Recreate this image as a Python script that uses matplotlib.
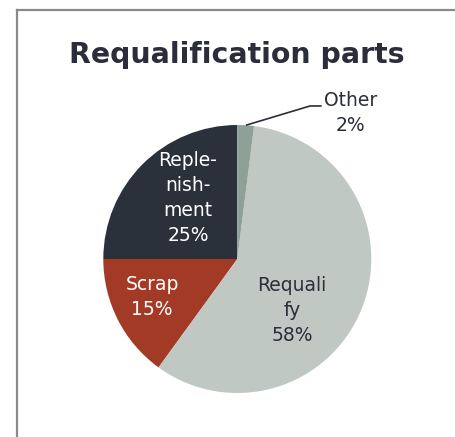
import matplotlib
matplotlib.use("Agg")
import matplotlib.pyplot as plt
from matplotlib.lines import Line2D

# Data
categories = ["Replenishment", "Scrap", "Requalify", "Other"]
label_lines = [["Reple-", "nish-", "ment"], ["Scrap"], ["Requali", "fy"], ["Other"]]
shares = [25, 15, 58, 2]

colors = ["#2b313b", "#a33a26", "#bfc8c2", "#8fa197"]
text_colors = ["white", "white", "#2b2e3a", "#2b2e3a"]
# label centres in units of pie radius
label_pos = [(-0.368, 0.452), (-0.637, -0.287), (0.408, -0.388), (0.845, 1.093)]

W, H = 456, 437
fig = plt.figure(figsize=(W / 100, H / 100), dpi=100)
fig.patch.set_facecolor("white")

# frame lines (top and left)
fig.add_artist(Line2D([16.5 / W, 1.0], [1 - 10 / H, 1 - 10 / H], color="#8a8a8a", lw=1.6,
                      transform=fig.transFigure))
fig.add_artist(Line2D([17 / W, 17 / W], [0, 1 - 10 / H], color="#8a8a8a", lw=1.6,
                      transform=fig.transFigure))

fig.text(237 / W, 1 - 63 / H, "Requalification parts", ha="center", va="baseline",
         fontsize=20.4, fontweight="bold", color="#2b2d3b", family="DejaVu Sans")

cx, cy, R = 237.3, 259, 134
ax = fig.add_axes([(cx - R) / W, (H - cy - R) / H, 2 * R / W, 2 * R / H])
ax.pie(shares, colors=colors, startangle=90, counterclock=True,
       wedgeprops=dict(linewidth=0))
ax.set_xlim(-1, 1)
ax.set_ylim(-1, 1)
ax.set_aspect("equal")
ax.axis("off")

for lines, val, (x, y), tc in zip(label_lines, shares, label_pos, text_colors):
    txt = "\n".join(lines + [f"{val}%"])
    ax.text(x, y, txt, ha="center", va="center", fontsize=13.5, color=tc,
            linespacing=1.4, clip_on=False, family="DejaVu Sans")

# leader line to the small slice
ax.plot([0.07, 0.543, 0.623], [1.0, 1.142, 1.142], color="#2b2e3a", lw=1.2,
        clip_on=False)

fig.savefig("out.png", dpi=100)
